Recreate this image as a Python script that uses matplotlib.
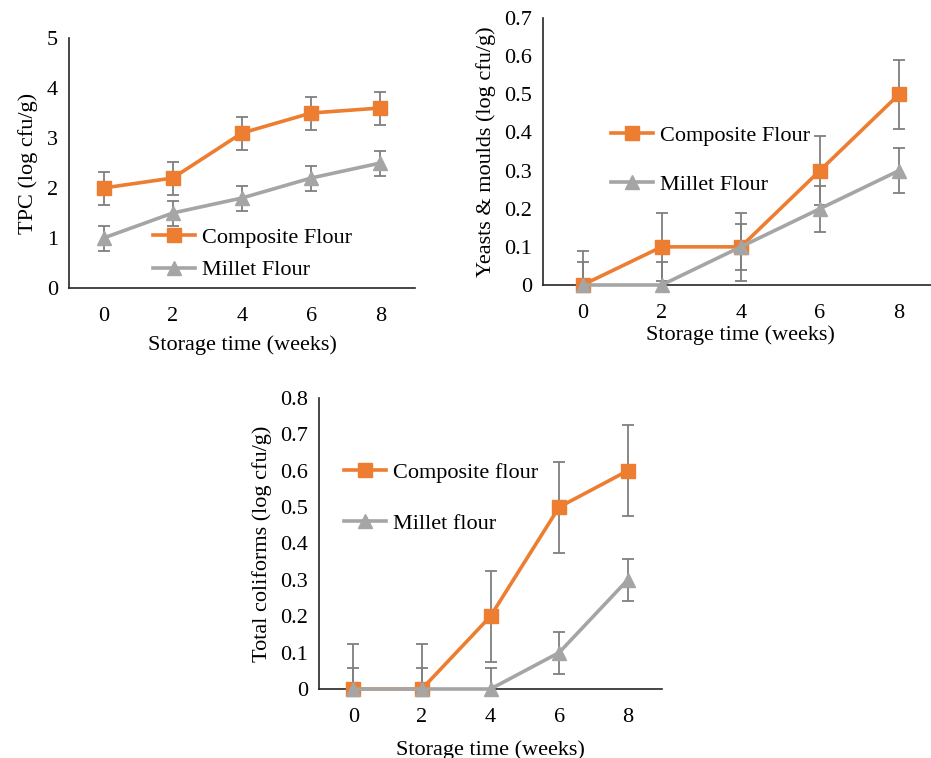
import matplotlib
matplotlib.use("Agg")
import matplotlib.pyplot as plt
from matplotlib.ticker import FormatStrFormatter

plt.rcParams['font.family'] = ['Liberation Serif', 'DejaVu Serif']

weeks = [0, 2, 4, 6, 8]

# Panel A: TPC
tpc_comp = [2.0, 2.2, 3.1, 3.5, 3.6]
tpc_comp_err = [0.33, 0.33, 0.33, 0.33, 0.33]
tpc_mill = [1.0, 1.5, 1.8, 2.2, 2.5]
tpc_mill_err = [0.25, 0.25, 0.25, 0.25, 0.25]

# Panel B: Yeasts & moulds
ym_comp = [0.0, 0.1, 0.1, 0.3, 0.5]
ym_comp_err = [0.09, 0.09, 0.09, 0.09, 0.09]
ym_mill = [0.0, 0.0, 0.1, 0.2, 0.3]
ym_mill_err = [0.06, 0.06, 0.06, 0.06, 0.06]

# Panel C: Total coliforms
tc_comp = [0.0, 0.0, 0.2, 0.5, 0.6]
tc_comp_err = [0.125, 0.125, 0.125, 0.125, 0.125]
tc_mill = [0.0, 0.0, 0.0, 0.1, 0.3]
tc_mill_err = [0.058, 0.058, 0.058, 0.058, 0.058]

ORANGE = '#ED7D31'
GREY = '#A5A5A5'
ERR = '#7F7F7F'
FS = 16

W, H = 931, 758
fig = plt.figure(figsize=(W / 100, H / 100), dpi=100)


def px_axes(l, t, r, b):
    return fig.add_axes([l / W, 1 - b / H, (r - l) / W, (b - t) / H])


def panel(ax, comp, comp_err, mill, mill_err, ymax, ystep, fmt, ylabel,
          labels, leg_xy, leg_sp, xlabpad):
    ax.errorbar(weeks, comp, yerr=comp_err, fmt='none', ecolor=ERR,
                elinewidth=1.3, capsize=4.5, capthick=1.3, zorder=2)
    ax.errorbar(weeks, mill, yerr=mill_err, fmt='none', ecolor=ERR,
                elinewidth=1.3, capsize=4.5, capthick=1.3, zorder=2)
    ax.plot(weeks, comp, color=ORANGE, lw=2.6, marker='s', ms=10,
            label=labels[0], zorder=3, clip_on=False)
    ax.plot(weeks, mill, color=GREY, lw=2.6, marker='^', ms=10,
            label=labels[1], zorder=3, clip_on=False)
    ax.set_xlim(-1, 9)
    ax.set_ylim(0, ymax)
    n = int(round(ymax / ystep))
    ax.set_yticks([i * ystep for i in range(n + 1)])
    ax.yaxis.set_major_formatter(FormatStrFormatter(fmt))
    ax.set_xticks(weeks)
    for s in ['top', 'right']:
        ax.spines[s].set_visible(False)
    for s in ['left', 'bottom']:
        ax.spines[s].set_color('#262626')
        ax.spines[s].set_linewidth(1.2)
    ax.tick_params(length=0, labelsize=FS)
    ax.tick_params(axis='y', pad=8)
    ax.tick_params(axis='x', pad=14)
    ax.set_xlabel('Storage time (weeks)', fontsize=FS, labelpad=xlabpad)
    ax.set_ylabel(ylabel, fontsize=FS, labelpad=6)
    ax.legend(loc='upper left', bbox_to_anchor=(leg_xy[0] / W, 1 - leg_xy[1] / H),
              bbox_transform=fig.transFigure, frameon=False, fontsize=FS,
              handlelength=1.9, handletextpad=0.3, labelspacing=leg_sp,
              borderpad=0, borderaxespad=0)


ax1 = px_axes(69, 38, 415, 288)
panel(ax1, tpc_comp, tpc_comp_err, tpc_mill, tpc_mill_err, 5, 1, '%d',
      'TPC (log cfu/g)', ['Composite Flour', 'Millet Flour'], (153, 227), 0.55, 6)

ax2 = px_axes(543, 18, 938.6, 285)
panel(ax2, ym_comp, ym_comp_err, ym_mill, ym_mill_err, 0.7, 0.1, '%g',
      'Yeasts & moulds (log cfu/g)', ['Composite Flour', 'Millet Flour'],
      (611, 125), 1.3, 1.5)

ax3 = px_axes(319, 398, 662, 689)
panel(ax3, tc_comp, tc_comp_err, tc_mill, tc_mill_err, 0.8, 0.1, '%g',
      'Total coliforms (log cfu/g)', ['Composite flour', 'Millet flour'],
      (344, 462), 1.4, 9)

fig.savefig('out.png', dpi=100)
